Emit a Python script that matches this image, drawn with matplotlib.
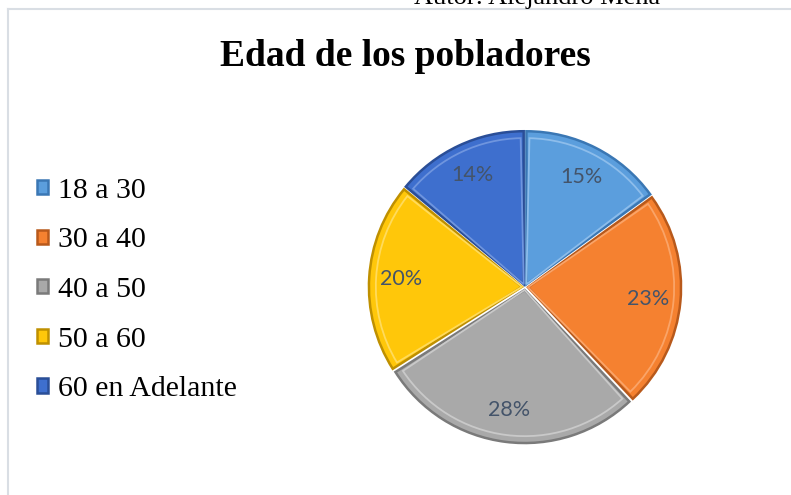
import matplotlib
matplotlib.use("Agg")
import matplotlib.pyplot as plt
from matplotlib.lines import Line2D
from matplotlib.patches import Wedge
import numpy as np

categories = ["18 a 30", "30 a 40", "40 a 50", "50 a 60", "60 en Adelante"]
values = [15, 23, 28, 20, 14]
colors = ["#5B9EDD", "#F58130", "#A9A9A9", "#FFC70A", "#3E6FCE"]
edge_colors = ["#3A77B4", "#B8591B", "#7A7A7A", "#BF9000", "#2A4E97"]
light_colors = ["#8DBDEB", "#FAA468", "#C9C9C9", "#FFDB5C", "#6F95DE"]
title = "Edad de los pobladores"
author = "Autor: Alejandro Mena"

W, H = 791, 495
fig = plt.figure(figsize=(W / 100, H / 100), dpi=100)
fig.patch.set_facecolor("white")

# frame lines
fig.add_artist(Line2D([8 / W, 1], [1 - 9 / H, 1 - 9 / H], color="#D9DEE4", lw=1.5))
fig.add_artist(Line2D([8 / W, 8 / W], [0, 1 - 9 / H], color="#D9DEE4", lw=1.5))

# author (cut off at the top, as in the source)
fig.text(537 / W, 1 - 4 / H, author, ha="center", va="baseline",
         family="Liberation Serif", fontsize=19, color="black")

# title
fig.text(405 / W, 1 - 66 / H, title, ha="center", va="baseline",
         family="Liberation Serif", fontweight="bold", fontsize=27, color="black")

# pie axes
cx, cy, r = 525, 287, 153
S = r * 2.3
ax = fig.add_axes([(cx - S / 2) / W, (H - cy - S / 2) / H, S / W, S / H])
wedges, texts, autotexts = ax.pie(
    values, colors=colors, startangle=90, counterclock=False,
    explode=[0.02] * len(values), radius=1.0,
    autopct=lambda p: f"{p:.0f}%", pctdistance=0.79,
    wedgeprops=dict(linewidth=2.2, edgecolor="white"),
    textprops=dict(color="#44546A", fontsize=15.5, family="Lato"))
for w, ec, lc in zip(wedges, edge_colors, light_colors):
    w.set_edgecolor(ec)
    w.set_linewidth(1.8)
    # bevel-like inner highlight
    inner = Wedge(w.center, w.r * 0.955, w.theta1 + 1.2, w.theta2 - 1.2,
                  fill=False, edgecolor=lc, lw=1.3, zorder=w.get_zorder() + 0.1)
    ax.add_patch(inner)
for t in autotexts:
    t.set_zorder(5)
ax.set_xlim(-1.15, 1.15)
ax.set_ylim(-1.15, 1.15)
ax.set_aspect("equal")
ax.axis("off")

# legend
leg = fig.legend(wedges, categories, loc="center left",
                 bbox_to_anchor=(22 / W, 1 - 290 / H), frameon=False,
                 prop=dict(family="Liberation Serif", size=21.5),
                 handlelength=0.36, handleheight=0.36, handletextpad=0.35,
                 labelspacing=0.79, borderpad=0)

fig.savefig("out.png", dpi=100, facecolor="white")
